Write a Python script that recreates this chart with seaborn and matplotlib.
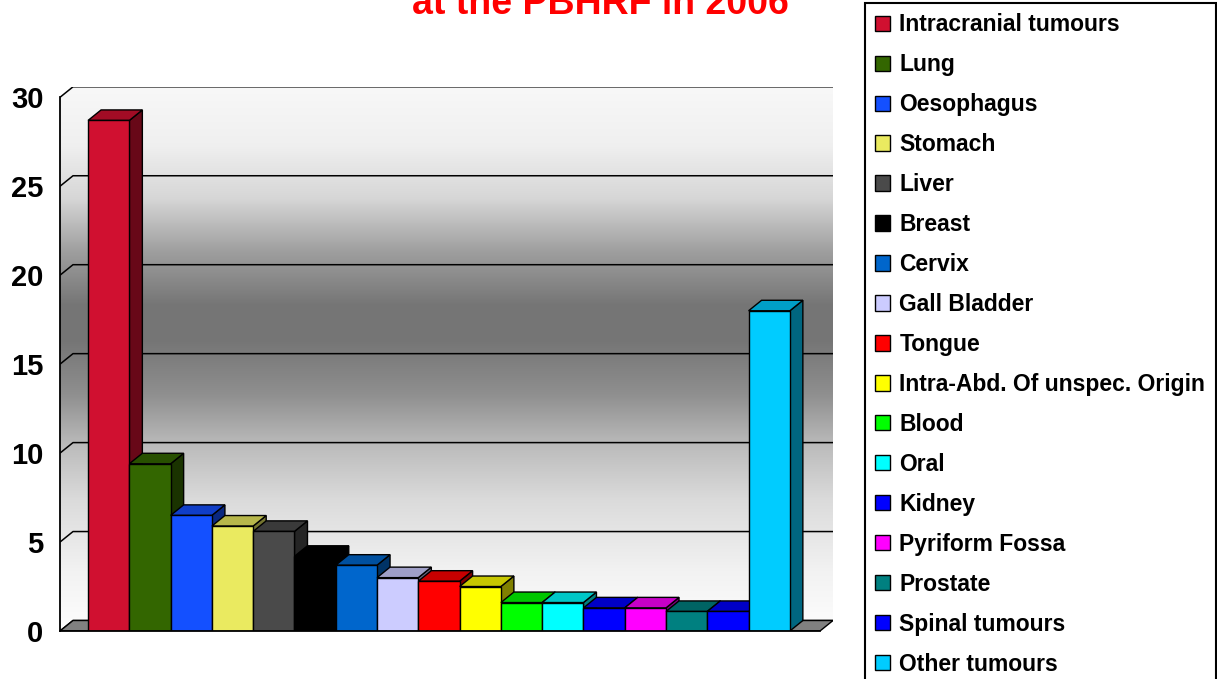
import numpy as np
import pandas as pd
import matplotlib
matplotlib.use("Agg")
import matplotlib.pyplot as plt
from matplotlib.patches import Polygon, Patch
from matplotlib.colors import to_rgb
import seaborn as sns

# ---------------- data ----------------
categories = ["Intracranial tumours", "Lung", "Oesophagus", "Stomach", "Liver",
              "Breast", "Cervix", "Gall Bladder", "Tongue",
              "Intra-Abd. Of unspec. Origin", "Blood", "Oral", "Kidney",
              "Pyriform Fossa", "Prostate", "Spinal tumours", "Other tumours"]
values = [28.7, 9.4, 6.5, 5.9, 5.6, 4.2, 3.7, 3.0, 2.8, 2.5,
          1.6, 1.6, 1.3, 1.3, 1.1, 1.1, 18.0]
colors = ["#D01030", "#336600", "#1450FF", "#EAEA60", "#4A4A4A", "#000000",
          "#0066CC", "#CCCCFF", "#FF0000", "#FFFF00", "#00FF00", "#00FFFF",
          "#0000FF", "#FF00FF", "#008080", "#0000FF", "#00CCFF"]
y_ticks = [0, 5, 10, 15, 20, 25, 30]
title = "at the PBHRF in 2006"

# ---------------- style ----------------
sns.set_style("white")
plt.rcParams['font.family'] = ['Liberation Sans', 'DejaVu Sans']
plt.rcParams['font.weight'] = 'bold'
plt.rcParams['text.color'] = 'black'
plt.rcParams['xtick.color'] = 'black'
plt.rcParams['ytick.color'] = 'black'
plt.rcParams['axes.labelcolor'] = 'black'

W, H = 1217, 679
fig = plt.figure(figsize=(W / 100, H / 100), dpi=100)

# geometry (pixels)
ax_left_px, ax_bottom_px = 60, 631
front_right_px = 820
y30_px = 97.3
depth_dx_px, depth_dy_px = 13, 10.5
gap_left, gap_right = 0.68, 0.73  # floor margins in category units

x0 = -0.5 - gap_left
x1 = len(categories) - 0.5 + gap_right
px_per_x = (front_right_px - ax_left_px) / (x1 - x0)
px_per_y = (ax_bottom_px - y30_px) / 30.0
dx = depth_dx_px / px_per_x
dy = depth_dy_px / px_per_y
ymax = 30 + dy
xmax = x1 + dx

ax_w_px = (xmax - x0) * px_per_x
ax_h_px = ymax * px_per_y
ax = fig.add_axes([ax_left_px / W, 1 - ax_bottom_px / H, ax_w_px / W, ax_h_px / H])

df = pd.DataFrame({"cat": categories, "val": values})
sns.barplot(data=df, x="cat", y="val", hue="cat", palette=colors, width=1.0,
            edgecolor="black", linewidth=1.0, saturation=1, legend=False, ax=ax)
bars = sorted(list(ax.patches), key=lambda p: p.get_x())

ax.set_xlim(x0, xmax)
ax.set_ylim(0, ymax)

# ---------------- walls with gradient ----------------
lv = np.linspace(0, ymax, 400)
stops_l = [0, 3, 7, 10, 13, 16, 18, 21, 24, 27, 30, ymax]
stops_g = [0.99, 0.95, 0.86, 0.74, 0.56, 0.46, 0.46, 0.62, 0.84, 0.94, 0.97, 0.97]
g = np.interp(lv - dy * 0.5, stops_l, stops_g)
img = np.repeat(g[:, None], 2, axis=1)
img = np.dstack([img, img, img])
im = ax.imshow(img, extent=(x0, xmax, 0, ymax), origin="lower", aspect="auto",
               interpolation="bilinear", zorder=0)
wall = Polygon([(x0, 0), (x0, 30), (x0 + dx, 30 + dy), (x1 + dx, 30 + dy),
                (x1 + dx, dy), (x0 + dx, dy)], closed=True, fc="none", ec="none",
               transform=ax.transData)
ax.add_patch(wall)
im.set_clip_path(wall)
ax.set_xlim(x0, xmax)
ax.set_ylim(0, ymax)

# gridlines on walls
for t in y_ticks:
    ax.plot([x0, x0 + dx, x1 + dx], [t + 0, t + dy, t + dy], color="black",
            lw=1.1, zorder=1.5, solid_capstyle="butt")

# floor
floor = Polygon([(x0, 0), (x1, 0), (x1 + dx, dy), (x0 + dx, dy)], closed=True,
                fc="#808080", ec="black", lw=1.0, zorder=2)
ax.add_patch(floor)

# ---------------- 3D bars ----------------
for i, p in enumerate(bars):
    x, w, h = p.get_x(), p.get_width(), p.get_height()
    col = np.array(to_rgb(p.get_facecolor()))
    side = Polygon([(x + w, 0), (x + w + dx, dy), (x + w + dx, h + dy), (x + w, h)],
                   closed=True, fc=col * 0.5, ec="black", lw=1.0, zorder=3 + 2 * i)
    top = Polygon([(x, h), (x + w, h), (x + w + dx, h + dy), (x + dx, h + dy)],
                  closed=True, fc=col * 0.78, ec="black", lw=1.0, zorder=3 + 2 * i)
    ax.add_patch(side)
    ax.add_patch(top)
    p.set_zorder(4 + 2 * i)

# ---------------- axes ----------------
for s in ["top", "right"]:
    ax.spines[s].set_visible(False)
ax.spines["left"].set_bounds(0, 30)
ax.spines["bottom"].set_bounds(x0, x1)
for s in ["left", "bottom"]:
    ax.spines[s].set_linewidth(1.3)
    ax.spines[s].set_color("black")
    ax.spines[s].set_zorder(50)

ax.set_yticks(y_ticks)
ax.set_yticklabels([str(t) for t in y_ticks], fontsize=21, fontweight="bold",
                   color="black")
ax.set_xticks([x0, x1])
ax.set_xticklabels([])
ax.tick_params(axis="y", direction="out", length=6, width=1.1, pad=6, colors="black")
ax.tick_params(axis="x", direction="out", length=5, width=1.1, colors="black")
ax.set_xlabel("")
ax.set_ylabel("")

# ---------------- title ----------------
fig.text(600 / W, 1 - 14.5 / H, title, ha="center", va="baseline",
         color="#FF0000", fontsize=27, fontweight="bold")

# ---------------- legend ----------------
handles = [Patch(facecolor=c, edgecolor="black", linewidth=1.0) for c in colors]
leg = fig.legend(handles, categories, loc="upper left",
                 bbox_to_anchor=(865 / W, 1 - 3 / H), bbox_transform=fig.transFigure,
                 borderaxespad=0, borderpad=0.45, labelspacing=0.74,
                 handlelength=0.65, handleheight=0.65, handletextpad=0.4,
                 prop={"weight": "bold", "size": 16.5}, fancybox=False,
                 framealpha=1, shadow=False, labelcolor="black")
leg.get_frame().set_edgecolor("black")
leg.get_frame().set_linewidth(1.5)

fig.savefig("out.png", dpi=100)
